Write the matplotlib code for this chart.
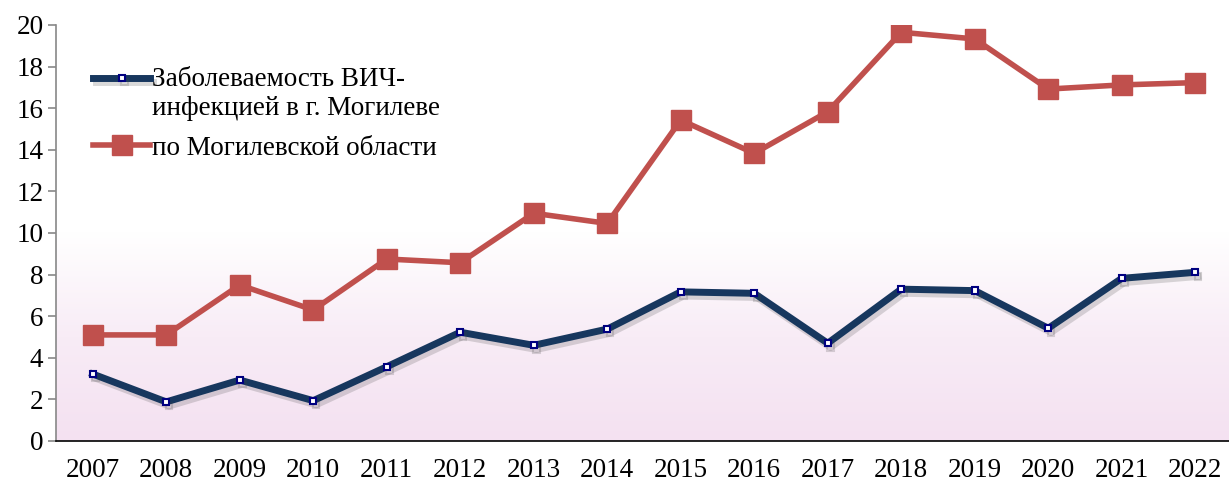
import numpy as np
import matplotlib.pyplot as plt
import matplotlib.patheffects as pe
from matplotlib.colors import LinearSegmentedColormap
from matplotlib.legend_handler import HandlerLine2D

plt.rcParams['font.family'] = ['Liberation Serif', 'DejaVu Serif']

# data
years = ['2007', '2008', '2009', '2010', '2011', '2012', '2013', '2014',
         '2015', '2016', '2017', '2018', '2019', '2020', '2021', '2022']
city = [3.22, 1.88, 2.93, 1.94, 3.57, 5.23, 4.6, 5.38,
        7.17, 7.1, 4.7, 7.3, 7.23, 5.42, 7.82, 8.11]
region = [5.1, 5.1, 7.5, 6.3, 8.75, 8.57, 10.95, 10.46,
          15.43, 13.83, 15.83, 19.65, 19.33, 16.92, 17.12, 17.23]
city_label = 'Заболеваемость ВИЧ-\nинфекцией в г. Могилеве'
region_label = 'по Могилевской области'


class TopLineHandler(HandlerLine2D):
    # put the legend line next to the first text line instead of the middle
    def create_artists(self, legend, orig_handle, xdescent, ydescent,
                       width, height, fontsize, trans):
        return super().create_artists(legend, orig_handle, xdescent, ydescent - 23,
                                      width, height, fontsize, trans)


x = np.arange(len(years))

fig = plt.figure(figsize=(12.29, 4.82), dpi=100)
ax = fig.add_axes([56 / 1229, 41 / 482, 1176 / 1229, 416 / 482])

# gradient background: white at top, lavender at bottom
cmap = LinearSegmentedColormap.from_list(
    'bg', [(0.0, '#F4E1F1'), (0.25, '#F8ECF6'), (0.5, '#FFFFFF'), (1.0, '#FFFFFF')])
grad = np.linspace(0, 1, 256).reshape(-1, 1)
ax.imshow(grad, cmap=cmap, aspect='auto', origin='lower',
          extent=[-0.5, len(years) - 0.5, 0, 20], zorder=0)

shadow = [pe.SimpleLineShadow(offset=(2, -3), shadow_color='#444444', alpha=0.2),
          pe.Normal()]

l_region, = ax.plot(x, region, color='#C0504D', lw=4, marker='s', markersize=14,
                    markerfacecolor='#C0504D', markeredgecolor='#C0504D',
                    label=region_label, zorder=3)
l_city, = ax.plot(x, city, color='#17375E', lw=5, marker='s', markersize=4.5,
                  markerfacecolor='white', markeredgecolor='#000080', markeredgewidth=1.5,
                  label=city_label, zorder=4, path_effects=shadow)

ax.set_xlim(-0.5, len(years) - 0.5)
ax.set_ylim(0, 20)
ax.set_yticks(range(0, 21, 2))
ax.set_xticks(x)
ax.set_xticklabels(years)

for s in ['top', 'right']:
    ax.spines[s].set_visible(False)
ax.spines['left'].set_color('#888888')
ax.spines['left'].set_linewidth(1.2)
ax.spines['bottom'].set_color('black')
ax.spines['bottom'].set_linewidth(1.2)
ax.tick_params(axis='y', length=6, width=1.2, color='#888888', labelsize=19.5, pad=3)
ax.tick_params(axis='x', length=0, labelsize=19.5, pad=12)

ax.legend([l_city, l_region], [city_label, region_label], loc='upper left',
          bbox_to_anchor=(0.011, 0.958), frameon=False, fontsize=19.5,
          handlelength=2.1, handletextpad=0.05, labelspacing=0.55,
          handler_map={l_city: TopLineHandler()})

fig.savefig('out.png', dpi=100)
